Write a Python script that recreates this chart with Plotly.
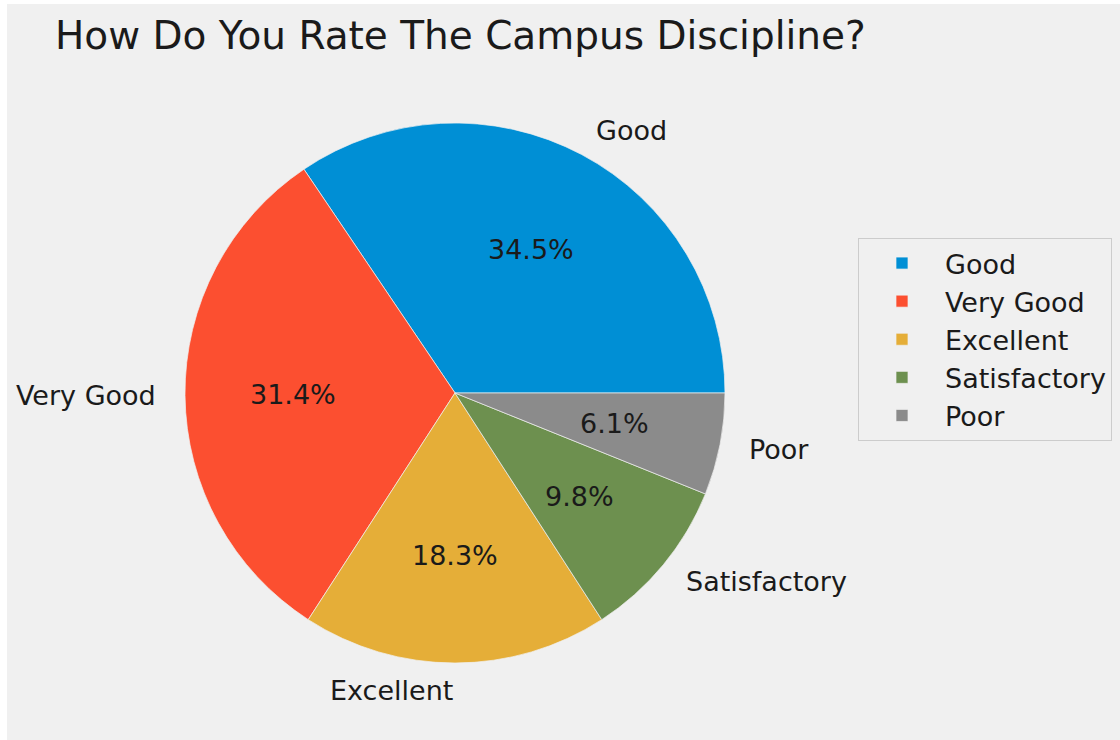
import math
import plotly.graph_objects as go

# ---- data ----
categories = ["Good", "Very Good", "Excellent", "Satisfactory", "Poor"]
counts = [113, 103, 60, 32, 20]
colors = ["#008fd5", "#fc4f30", "#e5ae38", "#6d904f", "#8b8b8b"]
title_text = "How Do You Rate The Campus Discipline?"

# ---- layout constants (pixels) ----
W, H = 1120, 740
CX, CY, R = 455, 393, 270
FONT = "DejaVu Sans"
TXT = 27

total = sum(counts)
# first slice starts at 3 o'clock and runs counterclockwise (matplotlib default)
rotation = 90 - 360 * counts[0] / total

fig = go.Figure()
fig.add_trace(go.Pie(
    labels=categories,
    values=counts,
    sort=False,
    direction="counterclockwise",
    rotation=rotation,
    textinfo="none",
    hoverinfo="label+percent",
    marker=dict(colors=colors, line=dict(color="#f0f0f0", width=0.7)),
    domain=dict(x=[(CX - R) / W, (CX + R) / W], y=[1 - (CY + R) / H, 1 - (CY - R) / H]),
    showlegend=True,
))

annotations = []
cum = 0.0
for lab, v in zip(categories, counts):
    frac = v / total
    theta = 2 * math.pi * (cum + frac / 2)
    cum += frac
    c, s = math.cos(theta), math.sin(theta)
    xo = CX + 1.1 * R * c
    yo = CY - 1.1 * R * s
    annotations.append(dict(
        x=xo / W, y=1 - yo / H, xref="paper", yref="paper",
        text=lab, showarrow=False,
        xanchor="left" if c > 0 else "right", yanchor="middle",
        font=dict(family=FONT, size=TXT, color="#1a1a1a"),
    ))
    xi = CX + 0.6 * R * c
    yi = CY - 0.6 * R * s
    annotations.append(dict(
        x=xi / W, y=1 - yi / H, xref="paper", yref="paper",
        text=f"{100 * frac:.1f}%", showarrow=False,
        xanchor="center", yanchor="middle",
        font=dict(family=FONT, size=TXT, color="#1a1a1a"),
    ))

fig.update_layout(
    width=W, height=H,
    margin=dict(l=0, r=0, t=0, b=0),
    paper_bgcolor="#f0f0f0",
    plot_bgcolor="#f0f0f0",
    font=dict(family=FONT, color="#1a1a1a"),
    title=dict(text=title_text, x=55 / W, xanchor="left", y=1 - 35 / H, yanchor="middle",
               font=dict(family=FONT, size=39, color="#1a1a1a")),
    legend=dict(x=858 / W, xanchor="left", y=1 - 238 / H, yanchor="top",
                bgcolor="#f0f0f0", bordercolor="#cccccc", borderwidth=1,
                itemwidth=76,
                font=dict(family=FONT, size=TXT, color="#1a1a1a")),
    annotations=annotations,
    shapes=[
        dict(type="rect", xref="paper", yref="paper", x0=0, x1=7 / W, y0=0, y1=1,
             fillcolor="white", line=dict(width=0), layer="below"),
        dict(type="rect", xref="paper", yref="paper", x0=0, x1=1, y0=1 - 4 / H, y1=1,
             fillcolor="white", line=dict(width=0), layer="below"),
    ],
)

fig.write_html("out.html",
               config={"displayModeBar": False},
               post_script="document.body.style.margin='0';document.body.style.overflow='hidden';")
